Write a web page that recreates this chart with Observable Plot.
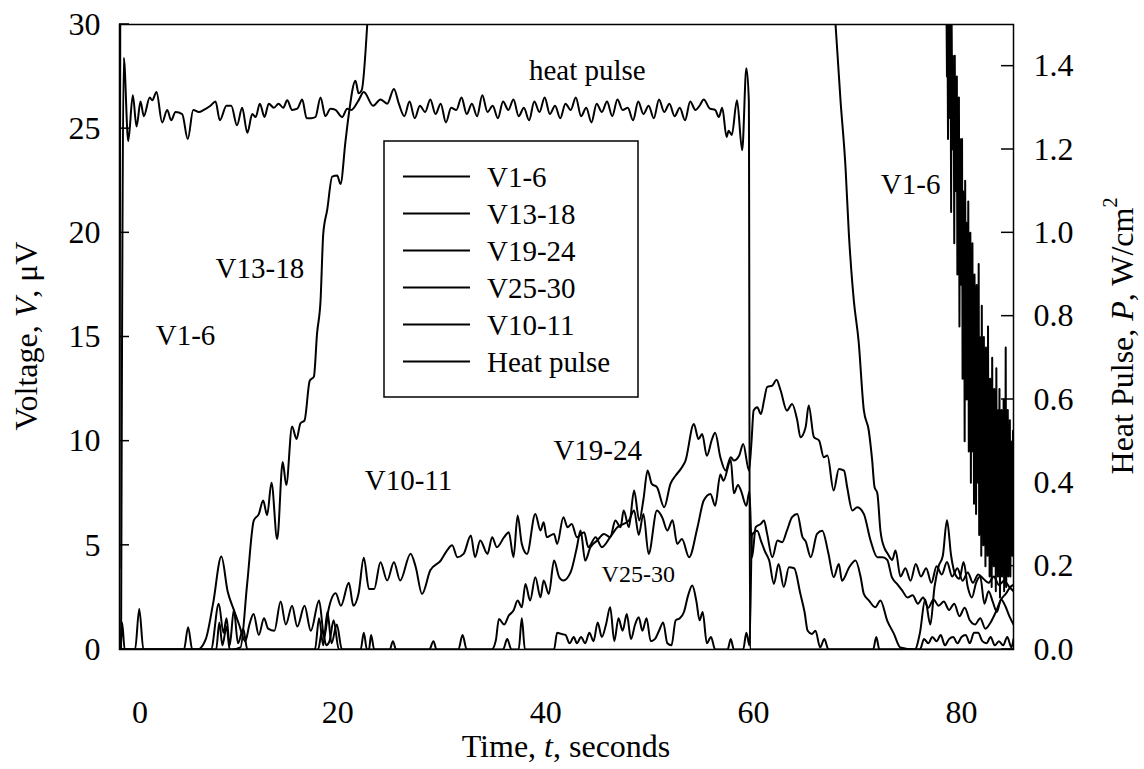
<!DOCTYPE html>
<html><head><meta charset="utf-8">
<script src="https://cdn.jsdelivr.net/npm/d3@7"></script>
<script src="https://cdn.jsdelivr.net/npm/@observablehq/plot@0.6"></script>
<style>
body{margin:0;background:#fff;}
#chart svg{display:block;font-family:"Liberation Serif","Times New Roman",serif;}
</style></head><body><div id="chart"></div>
<script>
const xTicks = [0, 20, 40, 60, 80];
const yTicks = [0, 5, 10, 15, 20, 25, 30];
const pTicks = [0, 0.2, 0.4, 0.6, 0.8, 1.0, 1.2, 1.4];
const P2V = 20; // 1.5 W/cm2 on the right axis lines up with 30 uV on the left
const seriesNames = ["V1-6", "V13-18", "V19-24", "V25-30", "V10-11", "Heat pulse"];

const v1_6_t = [-1, -0.93, -0.9, 78.5, 78.52, 78.55, 78.6, 78.65, 78.7, 78.75, 78.8, 78.85, 78.9, 78.95, 79.0, 79.05, 79.1, 79.15, 79.2, 79.25, 79.3, 79.35, 79.4, 79.45, 79.5, 79.55, 79.6, 79.65, 79.7, 79.75, 79.8, 79.85, 79.9, 79.95, 80.0, 80.05, 80.1, 80.15, 80.2, 80.25, 80.3, 80.35, 80.4, 80.45, 80.5, 80.55, 80.6, 80.65, 80.7, 80.75, 80.8, 80.85, 80.9, 80.95, 81.0, 81.05, 81.1, 81.15, 81.2, 81.25, 81.3, 81.35, 81.4, 81.45, 81.5, 81.55, 81.6, 81.65, 81.7, 81.75, 81.8, 81.85, 81.9, 81.95, 82.0, 82.05, 82.1, 82.15, 82.2, 82.25, 82.3, 82.35, 82.4, 82.45, 82.5, 82.55, 82.6, 82.65, 82.7, 82.75, 82.8, 82.85, 82.9, 82.95, 83.0, 83.05, 83.1, 83.15, 83.2, 83.25, 83.3, 83.35, 83.4, 83.45, 83.5, 83.55, 83.6, 83.65, 83.7, 83.75, 83.8, 83.85, 83.9, 83.95, 84.0, 84.05, 84.1, 84.15, 84.2, 84.25, 84.3, 84.35, 84.4, 84.45, 84.5, 84.55, 84.6, 84.65, 84.7, 84.75, 84.8, 84.85, 84.9, 84.95, 85.0];
const v1_6_v = [3.9, 30, NaN, NaN, 30,
  31, 27.5, 30, 24.5, 31, 28, 30.5, 25.5, 29, 21,
  30, 26, 28.5, 24, 27, 19.5, 28.5, 23.5, 26, 22,
  27.5, 18, 24, 21.5, 26.5, 15.5, 24.5, 19, 23, 17.5,
  24.5, 13, 22, 16.5, 21, 10, 22.5, 15.5, 20.5, 12,
  19, 14, 21.5, 9.5, 18, 13.5, 20, 8, 17, 12,
  19.5, 9.5, 16, 7, 18, 11, 15, 6.5, 17.5, 10,
  14.5, 8, 18.5, 5.5, 15, 9, 13.5, 4.5, 16.5, 7.5,
  12.5, 5, 15, 8, 13, 4, 14.5, 6.5, 11.5, 4.5,
  15.5, 5.5, 12, 3.5, 13, 7, 10.5, 3, 14, 5.5,
  11, 4, 12.5, 6.5, 9.5, 2.8, 13.5, 4.5, 10, 3.5,
  11.5, 6, 12.5, 2.5, 10.5, 4.5, 11.5, 3.5, 9.5, 5.5,
  12, 2.8, 10.5, 4, 14.5, 3, 10, 6, 11.5, 3.5,
  9, 5, 11, 3.5, 10, 6.5, 9, 4.5, 10.5, 6];

const v13_18_t = [-1, 9.8, 10.64, 11.28, 11.92, 12.4, 12.82, 13.2, 13.62, 14.17, 14.7, 15.04, 15.6, 16.03, 16.4, 16.8, 17.3, 17.7, 18.0, 18.34, 18.6, 18.98, 19.46, 19.94, 20.26, 20.74, 21.06, 21.7, 22.0, 22.3, 22.83, 22.9, 67.8, 67.88, 68.36, 68.84, 69.16, 69.5, 69.64, 70.1, 70.6, 71.08, 71.4, 71.63, 71.9, 72.2, 72.6, 72.9, 73.33, 73.65, 74.13, 74.6, 75.1, 75.6, 76.1, 76.6, 77.1, 77.6, 78.1, 78.6, 79.1, 79.6, 80.1, 80.6, 81.1, 81.6, 82.1, 82.6, 83.1, 83.6, 84.1, 84.6, 85];
const v13_18_v = [0, 0, 0.1, 3.15, 6.2, 6.5, 7.15, 6.45, 8.0, 5.3, 9.0, 7.9, 10.7, 10.1, 10.85, 11.0, 12.9, 13.1, 15.15, 16.75, 19.95, 21.1, 22.7, 22.75, 22.35, 24.4, 25.7, 27.3, 26.7, 26.85, 30, NaN, NaN, 30, 26.35, 23.15, 19.97, 17.55, 16.75, 14.8, 11.5, 10.5, 9.1, 7.8, 7.5, 5.7, 4.85, 4.6, 4.3, 4.75, 3.5, 3.9, 3.3, 4.1, 3.5, 3.9, 3.2, 4.0, 3.6, 4.2, 3.5, 3.9, 3.3, 3.7, 3.2, 3.6, 3.4, 3.2, 3.5, 3.1, 3.3, 3.0, 2.8];

const v19_24_t = [-1, -0.9, -0.75, -0.5, 7.8, 8.55, 9.0, 9.3, 9.6, 10.0, 10.4, 10.9, 11.3, 18.1, 18.5, 18.9, 19.2, 19.6, 20.1, 28.8, 29.2, 29.5, 34.8, 35.2, 35.5, 36.0, 36.45, 36.9, 37.3, 37.7, 38.05, 38.5, 39.0, 39.5, 39.8, 40.3, 40.8, 41.3, 41.7, 42.4, 43.0, 43.35, 43.8, 44.3, 44.95, 45.6, 46.2, 46.7, 47.2, 47.5, 48.0, 48.5, 49.0, 49.4, 49.8, 50.2, 50.7, 51.4, 52.0, 52.5, 53.0, 53.45, 54.25, 54.7, 55.05, 55.5, 56.0, 56.3, 56.8, 57.3, 57.8, 58.1, 58.6, 59.0, 59.55, 59.8, 60.0, 60.35, 60.7, 61.0, 61.3, 61.8, 62.2, 62.6, 63.2, 63.7, 64.2, 64.5, 65.0, 65.3, 65.8, 66.3, 66.75, 67.1, 67.7, 68.2, 68.7, 69.0, 69.5, 69.97, 70.6, 71.25, 71.9, 72.4, 72.85, 73.3, 73.8, 74.3, 74.8, 75.3, 75.8, 76.3, 76.8, 77.3, 77.8, 78.3, 78.8, 79.3, 79.8, 80.3, 80.8, 81.3, 81.8, 82.3, 82.8, 83.3, 83.8, 84.3, 84.7, 85];
const v19_24_v = [0, 0, 1.3, 0, 0, 2.2, 0.8, 1.5, 0.2, 1.9, 0.3, 1.0, 0, 0, 0.9, 0.2, 0.4, 1.4, 0, 0, 0.4, 0, 0, 0.43, 1.47, 1.2, 1.63, 1.87, 2.35, 2.03, 3.15, 2.35, 3.47, 2.51, 3.31, 2.67, 4.27, 3.47, 3.31, 3.71, 4.91, 5.71, 4.27, 4.91, 5.23, 5.55, 5.39, 6.19, 5.87, 6.67, 5.87, 7.63, 6.19, 7.2, 8.59, 7.95, 7.79, 6.83, 7.95, 8.35, 8.67, 9.07, 10.83, 10.1, 10.35, 9.3, 10.1, 10.4, 9.23, 8.59, 9.23, 9.07, 9.3, 9.87, 8.59, 10.0, 11.47, 11.63, 11.3, 11.95, 12.6, 12.67, 12.95, 12.43, 11.47, 11.79, 10.99, 10.19, 10.67, 11.71, 10.19, 10.03, 9.23, 9.31, 7.63, 8.67, 8.59, 7.79, 6.67, 6.83, 6.51, 5.23, 4.43, 4.43, 4.3, 3.47, 3.15, 2.83, 2.5, 2.6, 2.2, 2.5, 2.0, 2.4, 2.1, 2.3, 1.9, 2.2, 1.6, 2.0, 1.4, 1.2, 1.5, 1.0, 1.3, 1.8, 2.4, 2.7, 3.0, 3.1];

const v25_30_t = [-1, 0.5, 0.9, 1.3, 5.2, 5.6, 6.0, 8.3, 8.6, 8.9, 9.3, 9.6, 17.8, 18.2, 18.6, 19.0, 19.4, 19.9, 20.4, 22.2, 22.5, 22.8, 23.0, 23.2, 23.5, 25.0, 25.3, 25.6, 31.6, 32.0, 32.4, 35.9, 36.3, 36.7, 37.4, 37.7, 38.0, 40.8, 41.1, 41.5, 41.9, 42.3, 42.7, 43.0, 43.4, 43.8, 44.2, 44.6, 45.0, 45.4, 45.8, 46.2, 46.6, 47.0, 47.4, 47.8, 48.2, 48.6, 48.95, 49.3, 49.7, 50.1, 50.5, 50.9, 51.3, 51.7, 52.1, 52.5, 52.9, 53.3, 53.7, 54.1, 54.5, 54.8, 55.1, 55.5, 55.9, 56.3, 57.5, 57.8, 58.1, 59.0, 59.3, 59.6, 59.85, 60.35, 60.7, 61.1, 61.5, 61.95, 62.4, 62.9, 63.4, 63.9, 64.5, 64.9, 65.2, 65.6, 65.95, 66.4, 66.8, 67.2, 71.5, 71.8, 72.1, 76.0, 76.4, 76.8, 77.2, 77.6, 78.0, 78.4, 78.8, 79.2, 79.6, 80.0, 80.4, 80.8, 81.2, 81.6, 82.0, 82.4, 82.8, 83.2, 83.6, 84.0, 84.4, 84.8, 85];
const v25_30_v = [0, 0, 1.95, 0, 0, 1.07, 0, 0, 1.3, 0.2, 1.1, 0, 0, 1.5, 0.2, 1.8, 0.3, 1.2, 0, 0, 0.8, 0, 0, 0.7, 0, 0, 0.4, 0, 0, 0.7, 0, 0, 0.5, 0, 0, 1.5, 0, 0, 0.8, 0.75, 0.7, 0.3, 0.6, 0.3, 0.6, 0.3, 0.8, 0.4, 1.3, 0.6, 1.2, 2.03, 0.4, 1.5, 0.9, 1.7, 0.5, 1.2, 1.55, 0.9, 1.5, 0.4, 0.5, 0.9, 1.3, 0.3, 0.2, 1.4, 1.5, 1.8, 2.6, 3.07, 2.3, 1.4, 1.8, 0.3, 0.6, 0, 0, 0.5, 0, 0, 0.8, 0.2, 5.5, 5.7, 5.23, 4.7, 4.27, 3.15, 4.11, 3.0, 3.95, 3.9, 2.67, 1.8, 0.9, 0.75, 0.9, 0.1, 0.5, 0, 0, 0.6, 0, 0, 0.5, 0.3, 0.6, 0.4, 0.7, 0.2, 0.5, 0.6, 0.3, 0.6, 0.7, 0.3, 0.8, 0.8, 0.4, 0.3, 0.6, 0.2, 0.4, 0.2, 0.6, 0.1, 0.5];

const v10_11_t = [-1, 6.5, 7.3, 8.0, 8.8, 9.4, 10.0, 10.5, 11.1, 11.5, 11.9, 12.4, 12.9, 13.3, 13.9, 14.5, 15.0, 15.6, 16.1, 16.8, 17.4, 18.2, 18.7, 19.1, 19.8, 20.3, 21.06, 21.5, 22.0, 22.5, 23.0, 23.5, 24.1, 24.75, 25.4, 26.0, 27.0, 27.5, 28.1, 28.9, 29.9, 30.5, 31.0, 31.5, 32.1, 32.8, 33.2, 33.7, 34.4, 34.85, 35.3, 36.0, 36.45, 36.9, 37.3, 37.7, 38.2, 39.0, 39.5, 39.8, 40.1, 40.8, 41.1, 41.7, 42.1, 42.5, 43.0, 43.7, 44.1, 44.8, 45.4, 46.2, 46.9, 47.5, 48.0, 48.5, 48.95, 49.4, 49.9, 50.7, 51.2, 51.7, 52.2, 52.65, 53.1, 53.8, 54.6, 55.2, 55.85, 56.3, 56.8, 57.1, 57.8, 58.1, 58.5, 58.8, 59.3, 59.6, 59.85, 60.2, 60.7, 61.0, 61.3, 61.8, 62.3, 62.75, 63.2, 63.7, 64.2, 64.7, 65.0, 65.5, 66.1, 66.6, 67.2, 67.7, 68.2, 68.5, 69.2, 69.8, 70.3, 70.6, 71.1, 71.7, 72.2, 72.85, 73.5, 74.1, 75.5, 76.0, 76.5, 77.0, 77.4, 77.8, 78.2, 78.6, 79.0, 79.4, 79.8, 80.2, 80.6, 81.0, 81.4, 81.8, 82.2, 82.6, 83.0, 83.4, 83.8, 84.2, 84.6, 85];
const v10_11_v = [0, 0, 0.5, 2.2, 4.46, 2.8, 1.9, 1.2, 0.4, 1.2, 1.7, 0.7, 1.5, 1.0, 0.9, 2.3, 1.2, 2.1, 1.1, 2.1, 0.9, 2.35, 0.6, 1.9, 2.7, 2.1, 3.2, 2.1, 2.7, 4.4, 2.9, 2.9, 4.19, 3.31, 4.19, 3.31, 4.6, 3.95, 2.67, 3.8, 4.27, 4.75, 5.0, 4.43, 4.59, 5.47, 4.43, 5.23, 4.59, 5.39, 4.91, 5.39, 5.63, 4.43, 6.43, 5.07, 4.59, 6.51, 5.71, 6.11, 5.39, 5.55, 5.07, 6.35, 5.87, 6.03, 5.39, 5.63, 4.91, 5.39, 4.91, 5.39, 5.87, 6.03, 6.19, 6.67, 5.5, 6.51, 4.59, 6.67, 6.35, 5.71, 6.2, 5.07, 5.3, 4.43, 5.87, 7.15, 7.47, 6.9, 8.4, 8.1, 9.1, 7.5, 7.9, 7.6, 6.9, 7.6, 4.43, 5.87, 6.03, 6.19, 5.55, 4.43, 5.23, 5.15, 5.7, 6.35, 6.5, 5.4, 5.2, 4.43, 5.55, 5.7, 4.6, 3.47, 4.1, 3.3, 3.95, 4.27, 3.47, 2.67, 2.35, 2.03, 2.35, 1.39, 0.75, 0.1, 0, 0.8, 2.4, 1.2, 3.0, 4.0, 4.5, 6.2, 4.5, 3.6, 3.4, 4.2, 3.0, 2.5, 3.2, 3.5, 2.2, 2.8, 2.3, 1.8, 2.4, 2.1, 1.6, 1.2];

// heat pulse in W/cm2 (right axis)
const heat_t = [-0.85, -0.59, -0.16, 0.28, 0.64, 1.02, 1.34, 1.91, 2.15, 2.56, 3.1, 3.59, 3.97, 4.39, 5.03, 5.57, 6.09, 6.63, 7.11, 7.75, 8.24, 8.65, 9.29, 9.75, 10.3, 10.8, 11.3, 11.77, 12.1, 12.5, 12.95, 13.36, 13.85, 14.3, 14.75, 15.13, 15.6, 16.1, 16.58, 17.0, 17.44, 17.85, 18.34, 18.8, 19.3, 19.78, 20.42, 20.9, 21.3, 22.0, 22.5, 23.4, 24.1, 24.75, 25.4, 25.87, 26.4, 26.9, 27.4, 27.9, 28.4, 28.9, 29.4, 29.9, 30.4, 30.9, 31.4, 31.9, 32.4, 32.9, 33.4, 33.9, 34.4, 34.9, 35.4, 35.9, 36.4, 36.9, 37.4, 37.9, 38.4, 38.9, 39.4, 39.9, 40.4, 40.9, 41.4, 41.9, 42.4, 42.9, 43.4, 43.9, 44.4, 44.9, 45.4, 45.9, 46.4, 46.9, 47.4, 47.9, 48.4, 48.9, 49.4, 49.9, 50.4, 50.9, 51.4, 51.9, 52.4, 52.9, 53.4, 53.9, 54.4, 54.8, 55.2, 55.8, 56.3, 56.65, 56.98, 57.4, 57.6, 57.9, 58.4, 58.9, 59.3, 59.54, 59.65, 85];
const heat_p = [0, 1.42, 1.22, 1.33, 1.255, 1.315, 1.28, 1.325, 1.318, 1.338, 1.265, 1.295, 1.27, 1.29, 1.285, 1.225, 1.295, 1.29, 1.295, 1.305, 1.315, 1.27, 1.305, 1.305, 1.258, 1.30, 1.24, 1.285, 1.278, 1.31, 1.278, 1.31, 1.30, 1.31, 1.30, 1.318, 1.295, 1.298, 1.32, 1.275, 1.275, 1.278, 1.325, 1.28, 1.298, 1.295, 1.278, 1.298, 1.295, 1.318, 1.338, 1.305, 1.32, 1.31, 1.345, 1.31, 1.28, 1.315, 1.275, 1.305, 1.29, 1.32, 1.285, 1.31, 1.265, 1.30, 1.295, 1.325, 1.285, 1.31, 1.28, 1.33, 1.29, 1.305, 1.275, 1.315, 1.295, 1.32, 1.28, 1.30, 1.27, 1.315, 1.29, 1.325, 1.285, 1.305, 1.275, 1.31, 1.295, 1.325, 1.28, 1.30, 1.265, 1.31, 1.29, 1.315, 1.28, 1.32, 1.295, 1.30, 1.27, 1.315, 1.285, 1.305, 1.275, 1.32, 1.29, 1.31, 1.28, 1.30, 1.27, 1.315, 1.295, 1.305, 1.32, 1.298, 1.295, 1.278, 1.30, 1.23, 1.245, 1.235, 1.318, 1.198, 1.395, 1.318, 0, 0];

const labelText = ["heat pulse", "V13-18", "V1-6", "V10-11", "V19-24", "V1-6"];
const labelT = [44.0, 12.5, 5.35, 26.8, 45.0, 75.1];
const labelV = [27.8, 18.3, 15.07, 8.1, 9.55, 22.3];
const smallLabel = [{text: "V25-30", t: 48.9, v: 3.6}];

const toRows = (ts, vs) => ts.map((t, i) => ({t, v: vs[i]}));
const smoothRows = [
  toRows(v13_18_t, v13_18_v),
  toRows(v19_24_t, v19_24_v),
  toRows(v25_30_t, v25_30_v),
  toRows(v10_11_t, v10_11_v),
  heat_t.map((t, i) => ({t, v: heat_p[i] * P2V}))
];
const noisyRows = toRows(v1_6_t, v1_6_v);
const labels = labelText.map((text, i) => ({text, t: labelT[i], v: labelV[i]}));

const FONT = '"Liberation Serif","Times New Roman",serif';
const chart = Plot.plot({
  width: 1144, height: 769,
  marginTop: 24, marginBottom: 120, marginLeft: 119, marginRight: 131,
  x: {domain: [-1, 85], label: null},
  y: {domain: [0, 30], label: null},
  style: {fontFamily: FONT, fontSize: "32px", color: "black", background: "white", overflow: "visible"},
  marks: [
    Plot.axisX([xTicks[0]], {tickSize: 0, tickPadding: 51, fontSize: 32, dx: 10, label: null}),
    Plot.axisX(xTicks.slice(1), {tickSize: 0, tickPadding: 51, fontSize: 32, label: null}),
    Plot.axisY(yTicks, {anchor: "left", tickSize: 0, tickPadding: 19, fontSize: 32, label: null}),
    Plot.axisY(pTicks.map(p => p * P2V), {anchor: "right", tickSize: 0, tickPadding: 20, fontSize: 32, tickFormat: d => (d / P2V).toFixed(1), label: null}),
    ...smoothRows.map(r => Plot.line(r, {x: "t", y: "v", stroke: "black", strokeWidth: 2, curve: "monotone-x", clip: true})),
    Plot.line(noisyRows, {x: "t", y: "v", stroke: "black", strokeWidth: 2, clip: true}),
    Plot.frame({stroke: "black", strokeWidth: 1.5}),
    Plot.text(labels, {x: "t", y: "v", text: "text", fontSize: 29, fill: "black"}),
    Plot.text(smallLabel, {x: "t", y: "v", text: "text", fontSize: 24, fill: "black"})
  ]
});
document.getElementById("chart").appendChild(chart);

const svg = d3.select(chart);
const xs = chart.scale("x"), ys = chart.scale("y");
const [xL, xR] = xs.range;
// inward tick marks on both vertical axes
const tg = svg.append("g").attr("stroke", "black").attr("stroke-width", 1.5);
yTicks.forEach(v => {
  const yy = ys.apply(v);
  tg.append("line").attr("x1", xL).attr("x2", xL + 10).attr("y1", yy).attr("y2", yy);
});
pTicks.forEach(p => {
  const yy = ys.apply(p * P2V);
  tg.append("line").attr("x1", xR - 12).attr("x2", xR).attr("y1", yy).attr("y2", yy);
});
// legend
const lg = svg.append("g").attr("font-family", FONT).attr("font-size", 29).attr("text-anchor", "start");
lg.append("rect").attr("x", 384).attr("y", 141).attr("width", 254).attr("height", 256)
  .attr("fill", "white").attr("stroke", "black").attr("stroke-width", 1.5);
seriesNames.forEach((name, i) => {
  const cy = 176.5 + i * 37;
  lg.append("line").attr("x1", 403).attr("x2", 470).attr("y1", cy).attr("y2", cy)
    .attr("stroke", "black").attr("stroke-width", 2);
  lg.append("text").attr("x", 487).attr("y", cy).attr("dy", "0.35em").attr("fill", "black").text(name);
});
// axis titles
const xt = svg.append("text").attr("x", (xL + xR) / 2).attr("y", 757).attr("text-anchor", "middle")
  .attr("font-family", FONT).attr("font-size", 32).attr("fill", "black");
xt.append("tspan").text("Time, ");
xt.append("tspan").attr("font-style", "italic").text("t");
xt.append("tspan").text(", seconds");

const yl = svg.append("text").attr("transform", "translate(37,336) rotate(-90)").attr("text-anchor", "middle")
  .attr("font-family", FONT).attr("font-size", 32).attr("fill", "black");
yl.append("tspan").text("Voltage, ");
yl.append("tspan").attr("font-style", "italic").text("V");
yl.append("tspan").text(", \u03bcV");

const yr = svg.append("text").attr("transform", "translate(1133,336) rotate(-90)").attr("text-anchor", "middle")
  .attr("font-family", FONT).attr("font-size", 32).attr("fill", "black");
yr.append("tspan").text("Heat Pulse, ");
yr.append("tspan").attr("font-style", "italic").text("P");
yr.append("tspan").text(", W/cm");
yr.append("tspan").attr("font-size", 20).attr("dy", "-0.8em").text("2");
</script></body></html>
